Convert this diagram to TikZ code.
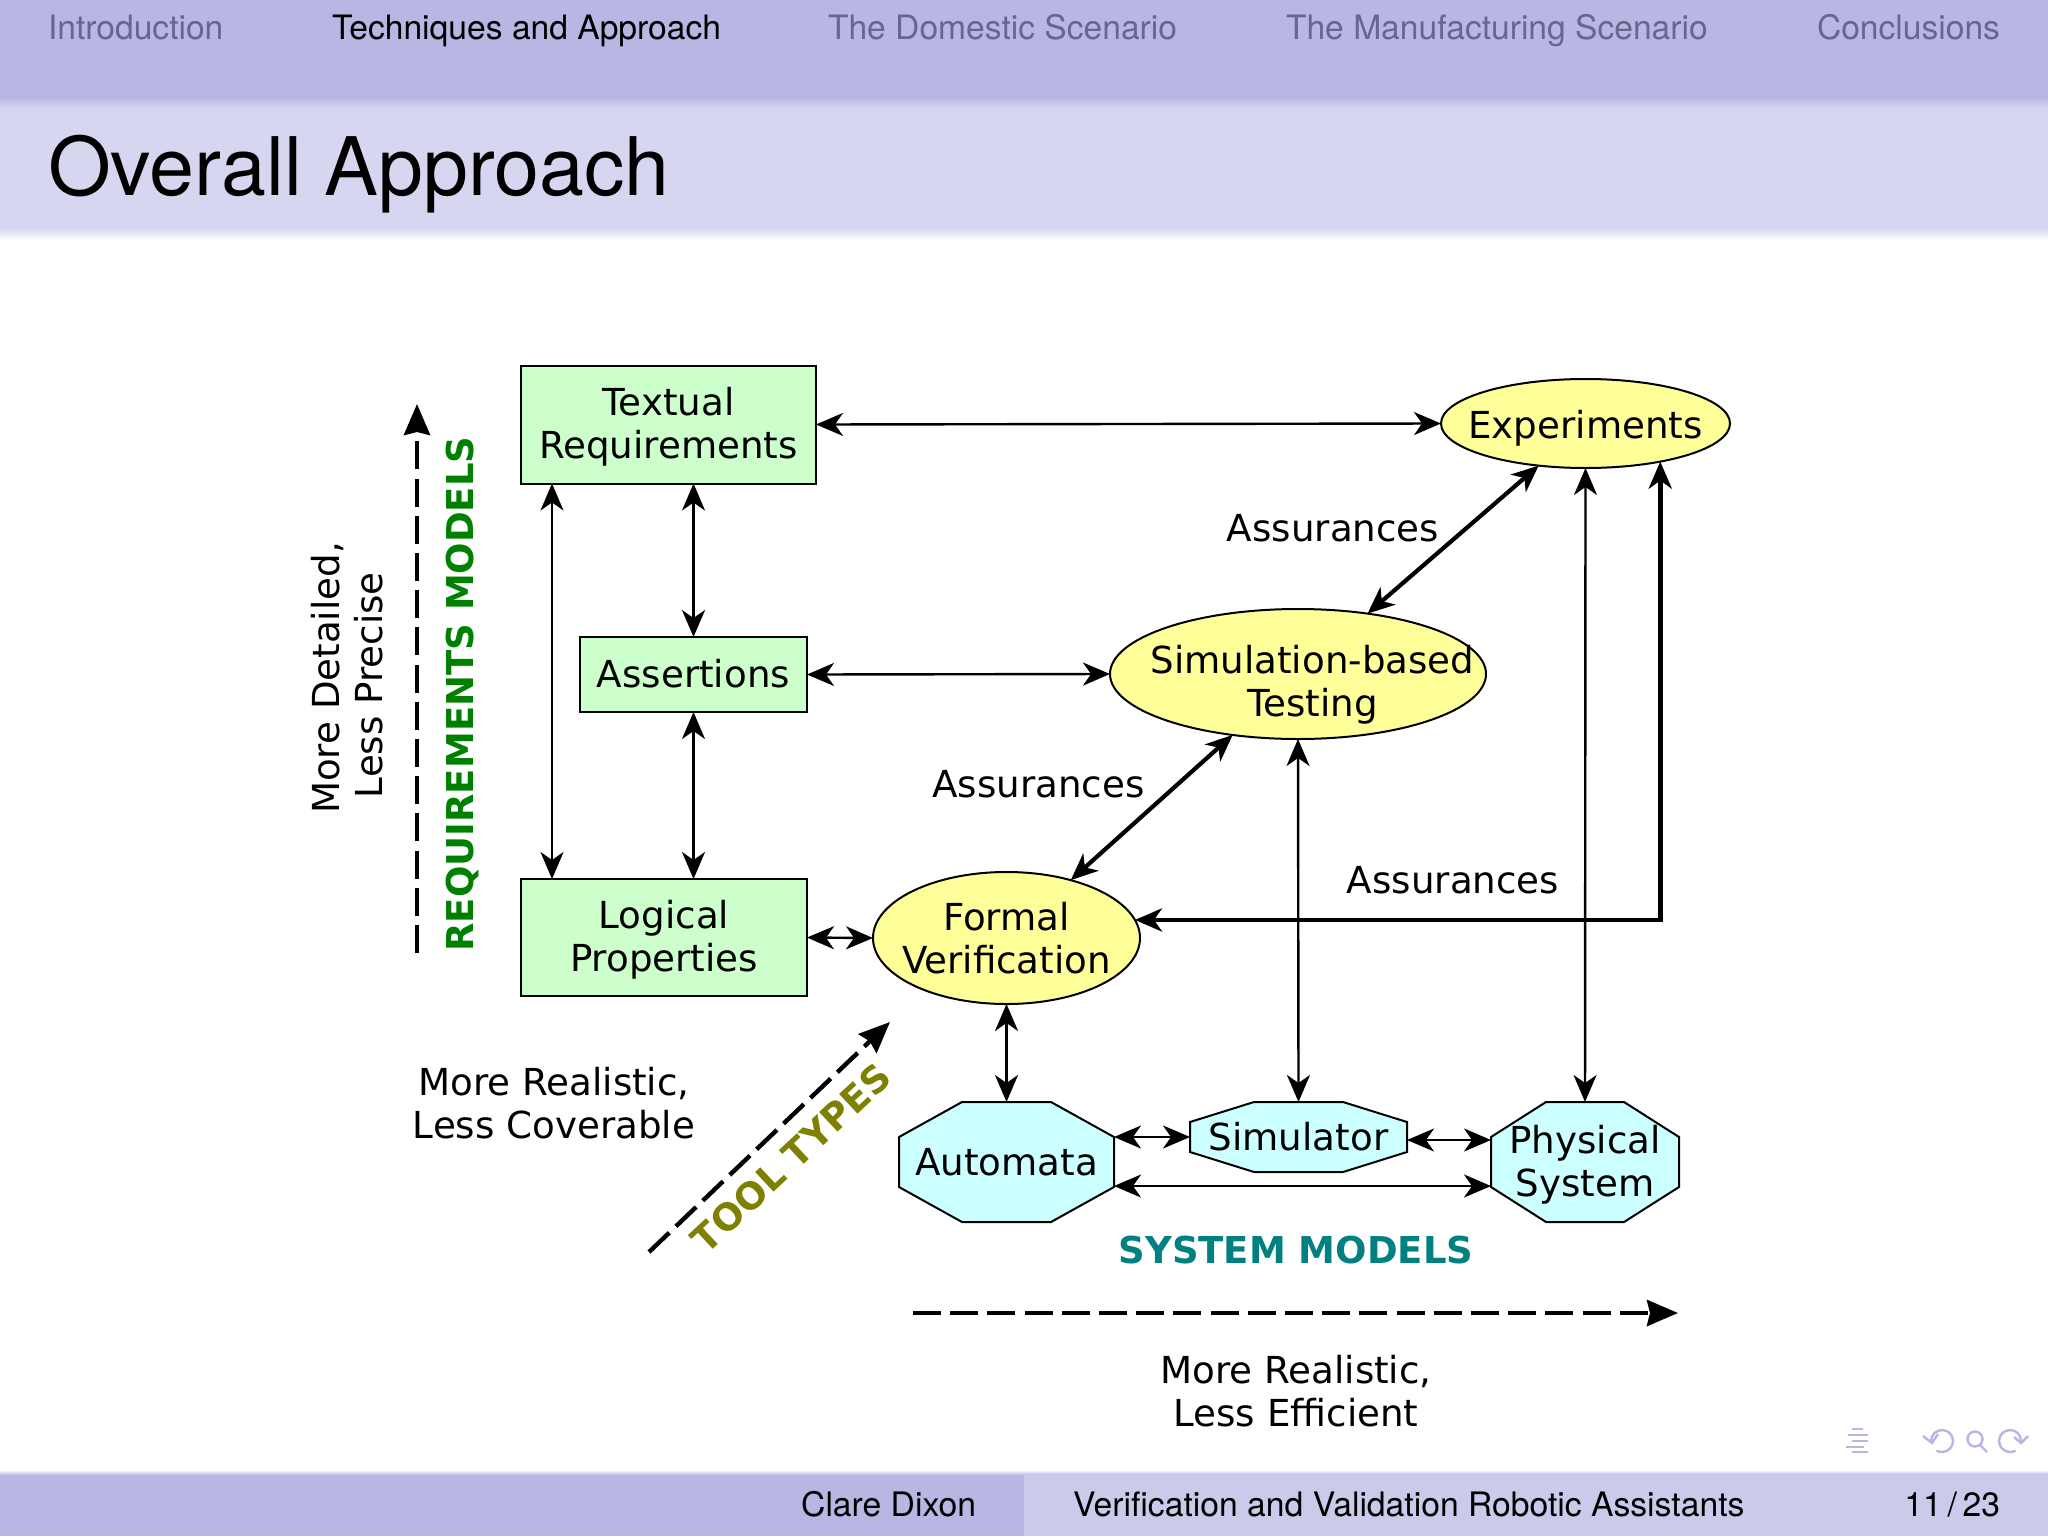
\documentclass[tikz,border=0pt]{standalone}
\usepackage{fontspec}
\setmainfont{DejaVu Sans}
\newfontfamily\helv{TeX Gyre Heros}
\usetikzlibrary{arrows.meta,shapes.geometric,backgrounds,calc}

\definecolor{barcol}{HTML}{B8B6E3}
\definecolor{titlecol}{HTML}{D6D6F1}
\definecolor{footcol}{HTML}{CBCAEB}
\definecolor{navgrey}{HTML}{66668F}
\definecolor{reqfill}{HTML}{CCFFCC}
\definecolor{toolfill}{HTML}{FFFF99}
\definecolor{sysfill}{HTML}{CCFFFF}
\definecolor{reqtext}{HTML}{008000}
\definecolor{tooltext}{HTML}{808000}
\definecolor{systext}{HTML}{008080}

\tikzset{
  every node/.style={inner sep=0pt,outer sep=0pt,align=center,font=\fontsize{18.6}{21.6}\selectfont},
  >={Stealth[length=13.5pt,width=11.5pt,inset=4pt]},
  req/.style={draw,line width=1pt,fill=reqfill},
  tool/.style={draw,line width=1pt,fill=toolfill,ellipse},
  octa/.style={draw,line width=1pt,fill=sysfill},
  link/.style={<->,line width=1.2pt},
  heavy/.style={<->,line width=2.1pt},
  heavier/.style={<->,line width=2.4pt},
  trend/.style={-{Stealth[length=15.5pt,width=13pt,inset=1.5pt]},line width=2.2pt,dash pattern=on 14pt off 4.6pt},
  nav/.style={anchor=base west,font=\helv\fontsize{16.8}{20}\selectfont,text=navgrey},
  foot/.style={font=\helv\fontsize{16.85}{20}\selectfont},
  icon/.style={barcol,line width=1.2pt},
  boldlab/.style={font=\fontsize{18.5}{21.6}\selectfont\bfseries},
}

% ellipse text may run up to the outline, so it must not size the node
\newcommand{\zw}[2][0pt]{\makebox[0pt]{\hspace{#1}#2}}
% lower a line of text without changing the box of the node
\newcommand{\dn}[2]{\raisebox{-#1}[\height][\depth]{#2}}

% outline of an octagon round a named node: name, corner cut x, corner cut y
\newcommand{\octaround}[3]{%
  \begin{scope}[on background layer]
    \draw[octa] ([xshift=#2]#1.north west) -- ([xshift=-#2]#1.north east)
      -- ([yshift=-#3]#1.north east) -- ([yshift=#3]#1.south east)
      -- ([xshift=-#2]#1.south east) -- ([xshift=#2]#1.south west)
      -- ([yshift=#3]#1.south west) -- ([yshift=-#3]#1.north west) -- cycle;
  \end{scope}}

\begin{document}
\begin{tikzpicture}[x=0.5pt,y=-0.5pt]
  \useasboundingbox (0,0) rectangle (2048,1536);

  % slide frame
  \fill[barcol] (0,0) rectangle (2048,97);
  \shade[top color=barcol,bottom color=titlecol] (0,97) rectangle (2048,108);
  \fill[titlecol] (0,108) rectangle (2048,228);
  \shade[top color=titlecol,bottom color=white] (0,228) rectangle (2048,240);
  \shade[top color=white,bottom color=barcol] (0,1470) rectangle (2048,1475);
  \fill[barcol] (0,1475) rectangle (1024,1536);
  \fill[footcol] (1024,1475) rectangle (2048,1536);

  \node[nav] (n1) at (48,40) {Introduction};
  \node[nav,text=black] (n2) at (332,40) {Techniques and Approach};
  \node[nav] (n3) at (828,40) {The Domestic Scenario};
  \node[nav] (n4) at (1286,40) {The Manufacturing Scenario};
  \node[nav] (n5) at (1817,40) {Conclusions};
  \node[anchor=base west,font=\helv\fontsize{40.4}{48}\selectfont] (title) at (48,195) {Overall Approach};

  \node[foot,anchor=base east] (f1) at (976,1516) {Clare Dixon};
  \node[foot,anchor=base west] (f2) at (1073,1516) {Verification and Validation Robotic Assistants};
  \node[foot,anchor=base east] (f3) at (2000,1516) {11\,/\,23};

  % beamer navigation symbols
  \draw[icon] (1852,1429) -- (1863,1429) (1848,1435) -- (1868,1435) (1852,1441) -- (1868,1441)
    (1846,1447) -- (1864,1447) (1852,1452) -- (1868,1452);
  \draw[icon] (1931,1441) arc[start angle=-180,end angle=120,radius=11];
  \draw[icon] (1923,1436) -- (1932,1443) -- (1938,1434);
  \draw[icon] (1975,1439) circle[radius=7.5] (1980,1445) -- (1987,1452);
  \draw[icon] (2021,1441) arc[start angle=0,end angle=-300,radius=11];
  \draw[icon] (2028,1436) -- (2021,1443) -- (2014,1437);

  % requirements models
  \node[req,minimum width=147.5pt,minimum height=59pt] (txt) at (668.5,424.5) {\dn{1.3pt}{Textual}\\\dn{1.3pt}{Requirements}};
  \node[req,minimum width=113.5pt,minimum height=37.5pt] (ast) at (693.5,674.5) {\dn{-0.5pt}{Assertions}};
  \node[req,minimum width=143pt,minimum height=58.5pt] (lp) at (664,937.5) {\dn{1.3pt}{Logical}\\\dn{1.3pt}{Properties}};

  % tool types
  \node[tool,minimum width=144.5pt,minimum height=44.5pt] (exp) at (1585.5,423.5) {\zw{\dn{2.3pt}{Experiments}}};
  \node[tool,minimum width=188pt,minimum height=65pt] (sim) at (1298,674) {\zw[14.4pt]{\dn{5.2pt}{Simulation-based}}\\\zw[14.4pt]{\dn{5.2pt}{Testing}}};
  \node[tool,minimum width=133.5pt,minimum height=66pt] (fv) at (1006.5,938) {\zw{Formal}\\\zw{Verification}};

  % system models
  \node[minimum width=107.5pt,minimum height=60pt] (aut) at (1006.5,1162) {Automata};
  \node[minimum width=108.5pt,minimum height=35pt] (smr) at (1298.5,1137) {Simulator};
  \node[minimum width=94pt,minimum height=60pt] (phy) at (1585,1162) {\dn{1.3pt}{Physical}\\\dn{1.3pt}{System}};
  \octaround{aut}{31.5pt}{17.5pt}
  \octaround{smr}{32pt}{10pt}
  \octaround{phy}{27.5pt}{17.5pt}

  % labels
  \node[rotate=90] (trq) at (347.5,678) {More Detailed,\\Less Precise\hspace*{7.2pt}};
  \node[rotate=90,boldlab,text=reqtext] (lrq) at (462,694) {REQUIREMENTS MODELS};
  \node (a1) at (1333,528) {Assurances};
  \node (a2) at (1038.5,784) {Assurances};
  \node (a3) at (1453,880) {Assurances};
  \node (tcv) at (554,1103) {More Realistic,\\Less Coverable};
  \node[rotate=43,boldlab,text=tooltext] (ltt) at (791,1158) {TOOL TYPES};
  \node[boldlab,text=systext] (lsm) at (1296,1250) {SYSTEM MODELS};
  \node (tef) at (1296,1391) {More Realistic,\\Less Efficient};

  % connectors
  \draw[link] (txt.east) -- (exp.west);
  \draw[link] ([xshift=15.5pt]txt.south west) -- ([xshift=15.5pt]lp.north west);
  \draw[link] (ast.north) -- (ast.north |- txt.south);
  \draw[link] (ast.south) -- (ast.south |- lp.north);
  \draw[link] (ast.east) -- (sim.west);
  \draw[link] (lp.east) -- (fv.west);
  \draw[link] (fv.south) -- (aut.north);
  \draw[link] (sim.south) -- (smr.north);
  \draw[link] (exp.south) -- (phy.north);
  \draw[link] (aut.east |- smr.west) -- (smr.west);
  \draw[link] ([yshift=-1.5pt]smr.east) -- ([yshift=-1.5pt]smr.east -| phy.west);
  \draw[link] ([yshift=-12pt]aut.east) -- ([yshift=-12pt]phy.west);
  \draw[heavy] (fv.42) -- (sim.223);
  \draw[heavy] (sim.41) -- (exp.222);
  \draw[heavier] (fv.8) -| (exp.333);

  % trend arrows
  \coordinate (rq0) at (417,953);
  \coordinate (rq1) at (417,404);
  \coordinate (tt0) at (649,1252);
  \coordinate (tt1) at (890,1022);
  \coordinate (sm0) at (913,1313);
  \coordinate (sm1) at (1678,1313);
  \draw[trend] (rq0) -- (rq1);
  \draw[trend] (tt0) -- (tt1);
  \draw[trend] (sm0) -- (sm1);
\end{tikzpicture}
\end{document}
